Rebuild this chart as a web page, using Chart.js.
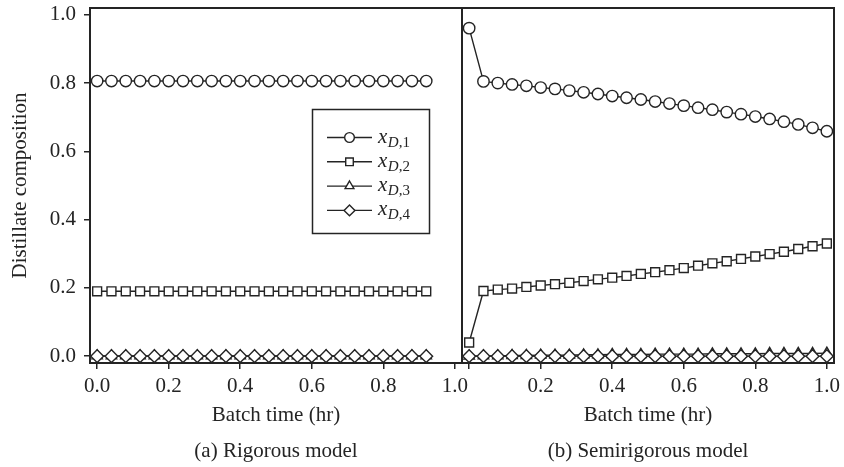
<!DOCTYPE html>
<html><head><meta charset="utf-8">
<script src="https://cdn.jsdelivr.net/npm/chart.js@4.4.1/dist/chart.umd.min.js"></script>
<style>
html,body{margin:0;padding:0;background:#fff;}
#wrap{position:relative;width:844px;height:467px;background:#fff;}
canvas{position:absolute;left:0;top:0;}
</style></head><body>
<div id="wrap"><canvas id="c1" width="844" height="467"></canvas><canvas id="c2" width="844" height="467"></canvas></div>
<script>
// ---------- data ----------
const leftTime  = [0.00,0.04,0.08,0.12,0.16,0.20,0.24,0.28,0.32,0.36,0.40,0.44,0.48,0.52,0.56,0.60,0.64,0.68,0.72,0.76,0.80,0.84,0.88,0.92];
const leftX1 = [0.806,0.806,0.806,0.806,0.806,0.806,0.806,0.806,0.806,0.806,0.806,0.806,0.806,0.806,0.806,0.806,0.806,0.806,0.806,0.806,0.806,0.806,0.806,0.806];
const leftX2 = [0.190,0.190,0.190,0.190,0.190,0.190,0.190,0.190,0.190,0.190,0.190,0.190,0.190,0.190,0.190,0.190,0.190,0.190,0.190,0.190,0.190,0.190,0.190,0.190];
const leftX3 = [0.001,0.001,0.001,0.001,0.001,0.001,0.001,0.001,0.001,0.001,0.001,0.001,0.001,0.001,0.001,0.001,0.001,0.001,0.001,0.001,0.001,0.001,0.001,0.001];
const leftX4 = [0.000,0.000,0.000,0.000,0.000,0.000,0.000,0.000,0.000,0.000,0.000,0.000,0.000,0.000,0.000,0.000,0.000,0.000,0.000,0.000,0.000,0.000,0.000,0.000];

const rightTime = [0.00,0.04,0.08,0.12,0.16,0.20,0.24,0.28,0.32,0.36,0.40,0.44,0.48,0.52,0.56,0.60,0.64,0.68,0.72,0.76,0.80,0.84,0.88,0.92,0.96,1.00];
const rightX1 = [0.961,0.805,0.800,0.796,0.792,0.787,0.783,0.778,0.773,0.768,0.762,0.757,0.752,0.746,0.740,0.734,0.728,0.722,0.715,0.709,0.702,0.695,0.687,0.679,0.669,0.659];
const rightX2 = [0.040,0.191,0.195,0.198,0.203,0.207,0.211,0.215,0.220,0.225,0.230,0.235,0.241,0.246,0.252,0.258,0.265,0.272,0.278,0.285,0.292,0.299,0.306,0.314,0.322,0.330];
const rightX3 = [0.000,0.001,0.001,0.002,0.002,0.003,0.003,0.003,0.004,0.004,0.005,0.005,0.005,0.006,0.006,0.006,0.006,0.007,0.007,0.007,0.007,0.008,0.008,0.008,0.008,0.009];
const rightX4 = [0.000,0.000,0.000,0.000,0.000,0.000,0.000,0.000,0.000,0.000,0.000,0.000,0.000,0.000,0.000,0.000,0.000,0.000,0.000,0.000,0.000,0.000,0.000,0.000,0.000,0.000];

const xTickValues = [0.0,0.2,0.4,0.6,0.8,1.0];
const leftXTickLabels  = ['0.0','0.2','0.4','0.6','0.8','1.0'];
const rightXTickLabels = ['','0.2','0.4','0.6','0.8','1.0'];
const yTickValues = [0.0,0.2,0.4,0.6,0.8,1.0];
const yTickLabels = ['0.0','0.2','0.4','0.6','0.8','1.0'];

const seriesNames = ['xD,1','xD,2','xD,3','xD,4'];
const legendMain = ['x','x','x','x'];
const legendSubItalic = ['D','D','D','D'];
const legendSubRest = [',1',',2',',3',',4'];

const xTitle = 'Batch time (hr)';
const yTitle = 'Distillate composition';
const leftCaption = '(a) Rigorous model';
const rightCaption = '(b) Semirigorous model';

// ---------- styles ----------
const INK = '#242424';
const FONT = '"Liberation Serif","Times New Roman",serif';
const FS = 21;
const styles = ['circle','rect','triangle','rectRot'];
const radii  = [5.7, 6.3, 6.0, 6.4];
const orders = [0, 0, 2, 1];

function makeDatasets(time, series) {
  return series.map((vals, i) => ({
    label: seriesNames[i],
    data: time.map((t, j) => ({x: t, y: vals[j]})),
    borderColor: INK, borderWidth: 1.4,
    pointStyle: styles[i], pointRadius: radii[i], pointHoverRadius: radii[i],
    pointBackgroundColor: '#ffffff', pointBorderColor: INK, pointBorderWidth: 1.4,
    order: orders[i], clip: false, tension: 0, fill: false
  }));
}

const frame = {
  id: 'frame',
  afterDatasetsDraw(chart) {
    const {ctx, chartArea: a} = chart;
    ctx.save();
    ctx.strokeStyle = INK; ctx.lineWidth = 2;
    ctx.strokeRect(a.left, a.top, a.right - a.left, a.bottom - a.top);
    ctx.restore();
  }
};

function marker(ctx, style, r, x, y) {
  ctx.fillStyle = '#ffffff'; ctx.strokeStyle = INK; ctx.lineWidth = 1.4;
  if (Chart.helpers && Chart.helpers.drawPoint) {
    Chart.helpers.drawPoint(ctx, {pointStyle: style, radius: r, borderWidth: 1.4, rotation: 0}, x, y);
  }
}

const legendBox = {
  id: 'legendBox',
  afterDraw(chart) {
    const ctx = chart.ctx;
    const bx = 312.5, by = 109.5, bw = 117, bh = 124;
    ctx.save();
    ctx.fillStyle = '#ffffff'; ctx.fillRect(bx, by, bw, bh);
    ctx.strokeStyle = INK; ctx.lineWidth = 1.5; ctx.strokeRect(bx, by, bw, bh);
    for (let i = 0; i < 4; i++) {
      const y = 137.5 + i * 24.3;
      ctx.strokeStyle = INK; ctx.lineWidth = 1.4;
      ctx.beginPath(); ctx.moveTo(327, y); ctx.lineTo(372, y); ctx.stroke();
      marker(ctx, styles[i], radii[i] * 0.85, 349.5, y);
      ctx.fillStyle = INK; ctx.textAlign = 'left'; ctx.textBaseline = 'alphabetic';
      ctx.font = 'italic 21px ' + FONT;
      ctx.fillText(legendMain[i], 378, y + 5);
      let x = 378 + ctx.measureText(legendMain[i]).width + 0.5;
      ctx.font = 'italic 15px ' + FONT;
      ctx.fillText(legendSubItalic[i], x, y + 9);
      x += ctx.measureText(legendSubItalic[i]).width;
      ctx.font = '15px ' + FONT;
      ctx.fillText(legendSubRest[i], x, y + 9);
    }
    ctx.restore();
  }
};

function xScale(labels) {
  return {
    type: 'linear', min: -0.02, max: 1.02,
    afterBuildTicks: s => { s.ticks = xTickValues.map(v => ({value: v})); },
    ticks: { callback: (v, i) => labels[i], font: {family: FONT, size: FS}, color: INK, padding: 5, maxRotation: 0, autoSkip: false },
    grid: { display: true, drawOnChartArea: false, drawTicks: true, tickLength: 6, color: INK, lineWidth: 1.5 },
    border: { display: false },
    title: { display: true, text: xTitle, font: {family: FONT, size: FS}, color: INK, padding: {top: 0, bottom: 10} },
    afterFit: s => { s.height = 75.4; s.paddingLeft = 0; s.paddingRight = 0; }
  };
}

const common = {
  responsive: false, animation: false, devicePixelRatio: 1,
  events: [],
};

new Chart(document.getElementById('c1'), {
  type: 'line',
  data: { datasets: makeDatasets(leftTime, [leftX1, leftX2, leftX3, leftX4]) },
  options: Object.assign({}, common, {
    layout: { padding: {left: 0, right: 382, top: 8, bottom: 0} },
    scales: {
      x: xScale(leftXTickLabels),
      y: {
        type: 'linear', min: -0.02, max: 1.02,
        afterBuildTicks: s => { s.ticks = yTickValues.map(v => ({value: v})); },
        ticks: { callback: (v, i) => yTickLabels[i], font: {family: FONT, size: FS}, color: INK, padding: 8 },
        grid: { display: true, drawOnChartArea: false, drawTicks: true, tickLength: 6, color: INK, lineWidth: 1.5 },
        border: { display: false },
        title: { display: true, text: yTitle, font: {family: FONT, size: FS}, color: INK, padding: {top: 7.8, bottom: 0} },
        afterFit: s => { s.width = 90; s.paddingTop = 0; s.paddingBottom = 0; }
      }
    },
    plugins: {
      legend: { display: false }, tooltip: { enabled: false },
      title: { display: true, position: 'bottom', fullSize: false, text: leftCaption, font: {family: FONT, size: FS, weight: 'normal'}, color: INK, padding: {top: 0, bottom: 3.4} }
    }
  }),
  plugins: [frame, legendBox]
});

new Chart(document.getElementById('c2'), {
  type: 'line',
  data: { datasets: makeDatasets(rightTime, [rightX1, rightX2, rightX3, rightX4]) },
  options: Object.assign({}, common, {
    layout: { padding: {left: 462, right: 10, top: 8, bottom: 0} },
    scales: {
      x: xScale(rightXTickLabels),
      y: { type: 'linear', min: -0.02, max: 1.02, display: false }
    },
    plugins: {
      legend: { display: false }, tooltip: { enabled: false },
      title: { display: true, position: 'bottom', fullSize: false, text: rightCaption, font: {family: FONT, size: FS, weight: 'normal'}, color: INK, padding: {top: 0, bottom: 3.4} }
    }
  }),
  plugins: [frame]
});
</script>
</body></html>
